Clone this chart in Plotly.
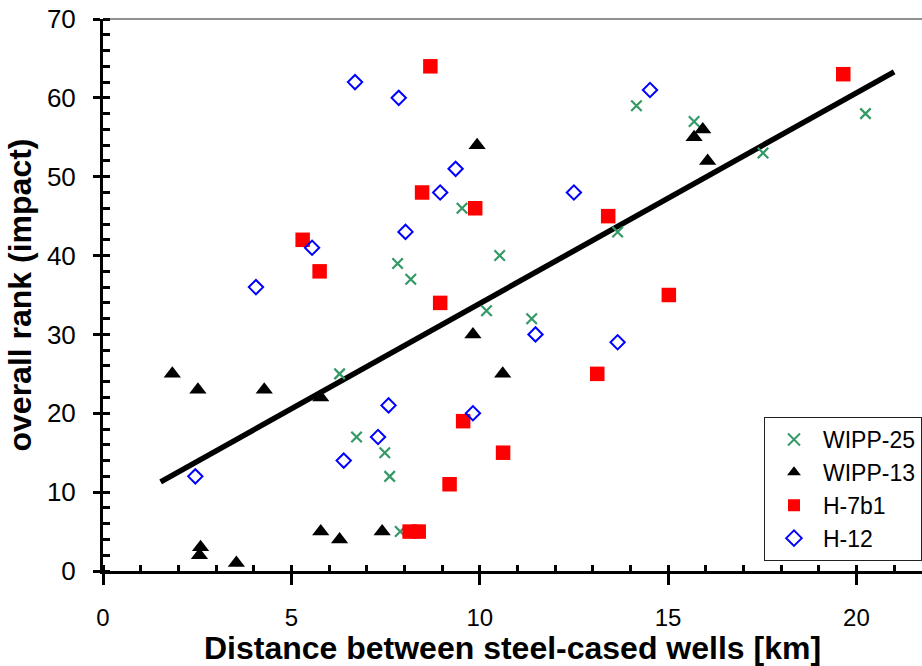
import plotly.graph_objects as go

# ---- data ----
wipp25_x = [7.89, 7.48, 7.61, 6.73, 6.28, 7.82, 8.17, 10.53, 10.18, 11.38, 9.53, 13.66, 14.16, 15.69, 17.52, 20.24]
wipp25_y = [5, 15, 12, 17, 25, 39, 37, 40, 33, 32, 46, 43, 59, 57, 53, 58]

wipp13_x = [1.84, 2.52, 4.28, 5.78, 2.56, 2.59, 3.54, 5.78, 6.28, 7.41, 9.82, 10.61, 9.93, 15.69, 15.92, 16.05]
wipp13_y = [25, 23, 23, 22, 2, 3, 1, 5, 4, 5, 30, 25, 54, 55, 56, 52]

h7b1_x = [8.69, 8.47, 9.88, 13.41, 19.65, 5.30, 5.75, 8.95, 13.12, 15.02, 9.56, 10.62, 9.20, 8.14, 8.38]
h7b1_y = [64, 48, 46, 45, 63, 42, 38, 34, 25, 35, 19, 15, 11, 5, 5]

h12_x = [6.69, 7.85, 14.52, 9.36, 8.95, 12.50, 8.03, 5.55, 4.06, 11.48, 13.66, 7.58, 9.82, 7.30, 6.39, 2.45]
h12_y = [62, 60, 61, 51, 48, 48, 43, 41, 36, 30, 29, 21, 20, 17, 14, 12]

trend_x = [1.53, 21.0]
trend_y = [11.3, 63.3]

x_range = [0, 21.74]
y_range = [0, 70]

FONT = "Liberation Sans, Arial, sans-serif"

fig = go.Figure()

fig.add_trace(go.Scatter(x=trend_x, y=trend_y, mode="lines",
                         line=dict(color="black", width=5.5),
                         showlegend=False, hoverinfo="skip"))

fig.add_trace(go.Scatter(x=wipp25_x, y=wipp25_y, mode="markers", name="WIPP-25",
                         marker=dict(symbol="x-thin", size=10.5, color="#339966",
                                     line=dict(color="#339966", width=2.2))))
fig.add_trace(go.Scatter(x=wipp13_x, y=wipp13_y, mode="markers", name="WIPP-13",
                         marker=dict(symbol="triangle-up", size=15, color="black",
                                     line=dict(width=0))))
fig.add_trace(go.Scatter(x=h7b1_x, y=h7b1_y, mode="markers", name="H-7b1",
                         marker=dict(symbol="square", size=14.5, color="#FF0000",
                                     line=dict(width=0))))
fig.add_trace(go.Scatter(x=h12_x, y=h12_y, mode="markers", name="H-12",
                         marker=dict(symbol="diamond-open", size=11, color="#0000FF",
                                     line=dict(color="#0000FF", width=2))))

fig.update_layout(
    width=922, height=666,
    margin=dict(l=103, r=0, t=19, b=95),
    paper_bgcolor="white", plot_bgcolor="white",
    font=dict(family=FONT, color="black"),
    showlegend=True,
    legend=dict(x=1, xanchor="right", y=0.279, yanchor="top",
                bordercolor="#222", borderwidth=1, bgcolor="white",
                font=dict(size=23, family=FONT),
                itemsizing="constant", itemwidth=48,
                tracegroupgap=0),
    xaxis=dict(range=x_range, dtick=5, tick0=0, showgrid=False, zeroline=False,
               showline=True, linecolor="black", linewidth=3,
               ticks="outside", ticklen=11, tickwidth=2.5, tickcolor="black",
               minor=dict(dtick=1, tick0=0, ticks="inside", ticklen=6,
                          tickwidth=2.5, tickcolor="black", showgrid=False),
               tickfont=dict(size=24, family=FONT),
               ticklabelstandoff=12,
               title=dict(text="<b>Distance between steel-cased wells [km]</b>",
                          font=dict(size=32, family=FONT), standoff=8)),
    yaxis=dict(range=y_range, dtick=10, tick0=0, showgrid=False, zeroline=False,
               showline=True, linecolor="black", linewidth=3,
               ticks="outside", ticklen=7, tickwidth=2.5, tickcolor="black",
               minor=dict(dtick=2, tick0=0, ticks="inside", ticklen=7,
                          tickwidth=2.5, tickcolor="black", showgrid=False),
               tickfont=dict(size=26, family=FONT),
               ticklabelstandoff=12,
               title=dict(text="<b>overall rank (impact)</b>",
                          font=dict(size=32, family=FONT), standoff=6)),
    shapes=[dict(type="line", xref="paper", yref="paper", x0=0, x1=1, y0=1, y1=1,
                 line=dict(color="#222", width=1))],
)

fig.write_html("out.html")
